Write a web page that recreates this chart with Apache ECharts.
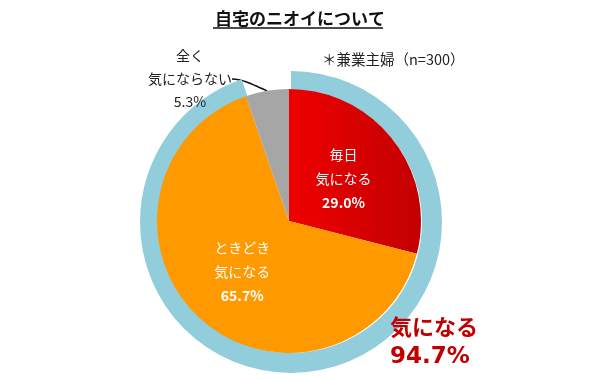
<!DOCTYPE html>
<html><head><meta charset="utf-8">
<script src="https://cdn.jsdelivr.net/npm/echarts@6/dist/echarts.min.js"></script>
<style>html,body{margin:0;padding:0;background:#fff}#c{width:600px;height:381px}</style>
</head><body><div id="c"></div>
<script>
const categories = ['毎日\n気になる', 'ときどき\n気になる', '全く\n気にならない'];
const values = [29.0, 65.7, 5.3];
const ringCategories = ['気になる', ''];
const ringValues = [94.7, 5.3];
const titleText = '自宅のニオイについて';
const noteText = '＊兼業主婦（n=300）';

const FONT = '"Noto Sans CJK JP", sans-serif';
const chart = echarts.init(document.getElementById('c'), null, {renderer: 'canvas'});
const sliceColors = [
  new echarts.graphic.LinearGradient(0, 0, 1, 0, [{offset: 0, color: '#ee0000'}, {offset: 1, color: '#c20000'}]),
  '#ff9900',
  '#a6a6a6'
];
chart.setOption({
  backgroundColor: '#fff',
  animation: false,
  title: [
    {text: titleText, left: 'center', top: 5,
     textStyle: {fontFamily: FONT, fontSize: 17, fontWeight: 'bold', color: '#111'}},
    {text: noteText, left: 317, top: 47,
     textStyle: {fontFamily: FONT, fontSize: 14.5, fontWeight: 'normal', color: '#222'}},
    {text: '{a|' + ringCategories[0] + '}\n{b|' + ringValues[0].toFixed(1) + '%}', left: 385, top: 306,
     textStyle: {rich: {
       a: {fontFamily: FONT, fontSize: 22, fontWeight: 'bold', color: '#c00000', lineHeight: 31},
       b: {fontFamily: '"DejaVu Sans", sans-serif', fontSize: 23, fontWeight: 'bold', color: '#c00000', lineHeight: 31}
     }}}
  ],
  graphic: [
    {type: 'line', shape: {x1: 213, y1: 28, x2: 383, y2: 28}, style: {stroke: '#111', lineWidth: 1.5}}
  ],
  series: [
    {
      type: 'pie', silent: true, clockwise: true, startAngle: 90,
      center: [291, 222], radius: [131, 151],
      label: {show: false}, labelLine: {show: false},
      data: ringValues.map((v, i) => ({value: v, name: ringCategories[i],
        itemStyle: {color: i === 0 ? '#92cddc' : 'rgba(0,0,0,0)'}}))
    },
    {
      type: 'pie', silent: true, clockwise: true, startAngle: 90,
      center: [289, 221], radius: [0, 132],
      itemStyle: {borderWidth: 0},
      label: {
        show: true, position: 'inside', color: '#fff',
        formatter: p => p.name + '\n{b|' + p.value.toFixed(1) + '%}',
        fontFamily: FONT, fontSize: 14, lineHeight: 24,
        rich: {b: {fontFamily: FONT, fontSize: 14, fontWeight: 'bold', color: '#fff', lineHeight: 24}}
      },
      labelLayout: function (p) {
        if (p.dataIndex === 2) return {x: 190, y: 79, align: 'center', verticalAlign: 'middle'};
      },
      data: values.map((v, i) => {
        const d = {value: v, name: categories[i], itemStyle: {color: sliceColors[i]}};
        if (i === 2) {
          d.label = {position: 'outside', color: '#222',
            formatter: p => p.name + '\n' + p.value.toFixed(1) + '%',
            fontFamily: FONT, fontSize: 14, lineHeight: 23, fontWeight: 'normal', rich: {}};
          d.labelLine = {show: true, length: 5, length2: 8, smooth: 0.6, lineStyle: {color: '#111', width: 1.5}};
        }
        return d;
      })
    }
  ]
});
</script></body></html>
